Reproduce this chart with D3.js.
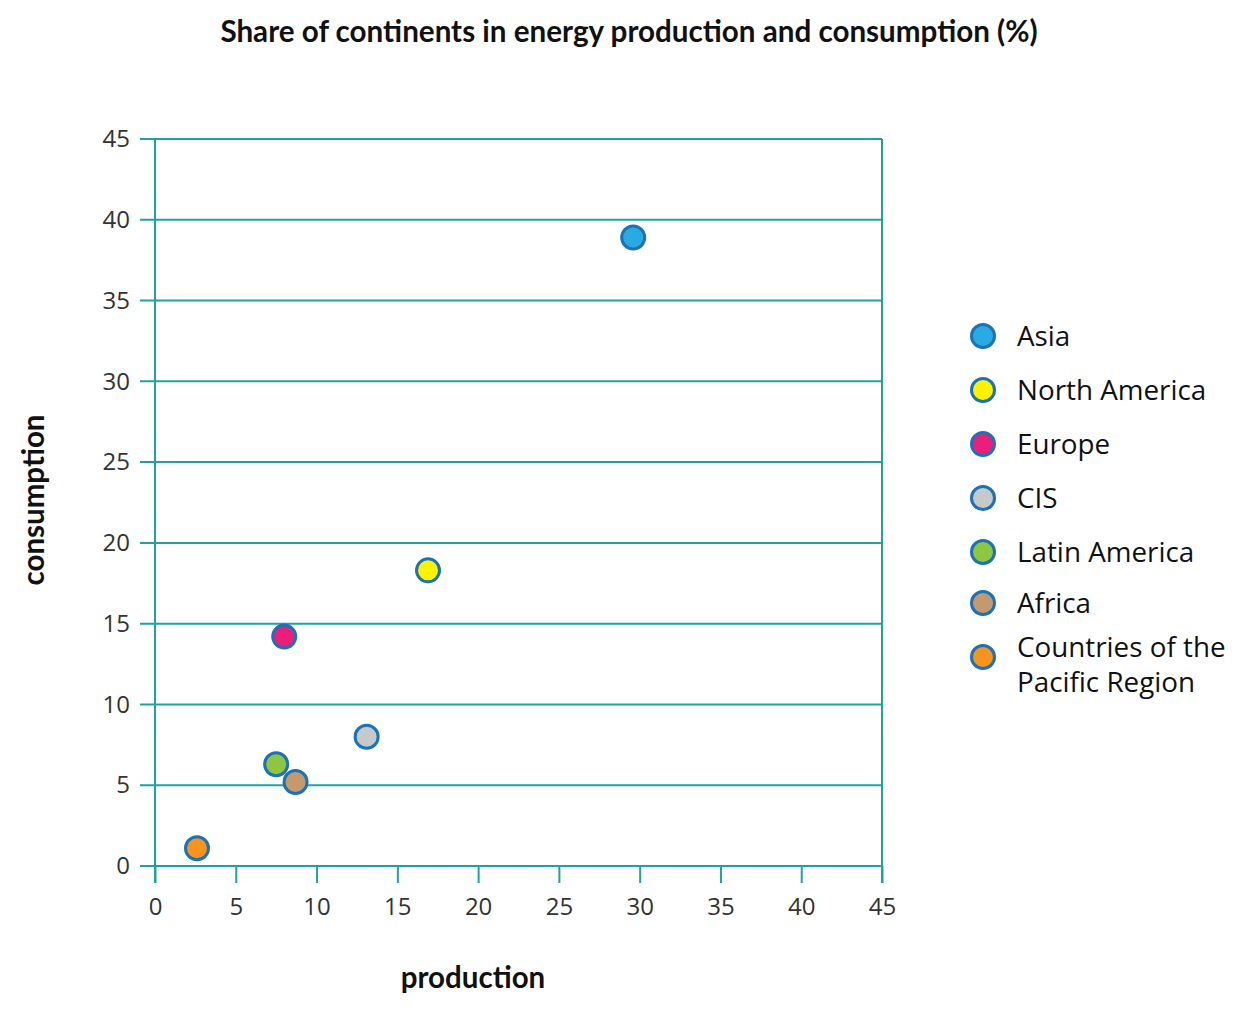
<!DOCTYPE html>
<html>
<head>
<meta charset="utf-8">
<script src="https://cdn.jsdelivr.net/npm/d3@7"></script>
<style>
  body { margin: 0; background: #fff; }
  text { font-family: "Open Sans", sans-serif; }
  .title, .axis-label { font-family: Lato, "Open Sans", sans-serif; font-weight: bold; fill: #111; }
  .tick text { fill: #333; font-size: 24px; }
</style>
</head>
<body>
<div id="chart"></div>
<script>
// Data
const regions = ["Asia", "North America", "Europe", "CIS", "Latin America", "Africa", "Countries of the Pacific Region"]
const production = [29.6, 16.9, 8.0, 13.1, 7.5, 8.7, 2.6]
const consumption = [38.9, 18.3, 14.2, 8.0, 6.3, 5.2, 1.1]
const fills = ["#29abe2", "#fff200", "#ed1e79", "#c7c8ca", "#8dc63f", "#c49a6c", "#f7941d"]
const ticks = [0, 5, 10, 15, 20, 25, 30, 35, 40, 45]

const axisColor = "#1fa39c"
const ringColor = "#1b72b8"

let margin = {top: 139, right: 368, bottom: 151, left: 155}
let width = 1250 - margin.left - margin.right
let height = 1017 - margin.top - margin.bottom

let svg = d3.select("#chart").append("svg")
  .attr("width", 1250)
  .attr("height", 1017)

svg.append("text")
  .attr("class", "title")
  .attr("x", 629).attr("y", 42)
  .attr("text-anchor", "middle")
  .style("font-size", "29.6px")
  .text("Share of continents in energy production and consumption (%)")

let g = svg.append("g")
  .attr("transform", "translate(" + margin.left + "," + margin.top + ")")

let xScale = d3.scaleLinear().domain([0, 45]).range([0, width])
let yScale = d3.scaleLinear().domain([0, 45]).range([height, 0])

// horizontal grid lines
g.append("g")
  .selectAll("line")
  .data(ticks)
  .enter().append("line")
  .attr("x1", -15).attr("x2", width)
  .attr("y1", d => yScale(d)).attr("y2", d => yScale(d))
  .attr("stroke", axisColor).attr("stroke-width", 2)

// right border
g.append("line")
  .attr("x1", width).attr("x2", width)
  .attr("y1", 0).attr("y2", height + 17)
  .attr("stroke", axisColor).attr("stroke-width", 2)

let xAxis = d3.axisBottom(xScale).tickValues(ticks).tickSize(17).tickPadding(15)
let yAxis = d3.axisLeft(yScale).tickValues(ticks).tickSize(0).tickPadding(25)

let xg = g.append("g")
  .attr("transform", "translate(0," + height + ")")
  .call(xAxis)
xg.select(".domain").remove()
xg.selectAll(".tick line").attr("stroke", axisColor).attr("stroke-width", 2)

let yg = g.append("g").call(yAxis)
yg.select(".domain").remove()
yg.selectAll(".tick text").attr("dy", "0.32em")

// left axis line, running down past the x axis
g.append("line")
  .attr("x1", 0).attr("x2", 0)
  .attr("y1", 0).attr("y2", height + 17)
  .attr("stroke", axisColor).attr("stroke-width", 2)

g.append("text")
  .attr("class", "axis-label")
  .attr("transform", "translate(" + (473 - margin.left) + "," + (988 - margin.top) + ")")
  .attr("text-anchor", "middle")
  .style("font-size", "29.5px")
  .text("production")

g.append("text")
  .attr("class", "axis-label")
  .attr("transform", "translate(" + (44 - margin.left) + "," + (500 - margin.top) + "),rotate(-90)")
  .attr("text-anchor", "middle")
  .style("font-size", "29.5px")
  .text("consumption")

let points = regions.map((r, i) => ({name: r, x: production[i], y: consumption[i], fill: fills[i]}))

g.selectAll(".dot")
  .data(points)
  .enter().append("circle")
  .attr("class", "dot")
  .attr("cx", d => xScale(d.x))
  .attr("cy", d => yScale(d.y))
  .attr("r", 11.5)
  .attr("fill", d => d.fill)
  .attr("stroke", ringColor)
  .attr("stroke-width", 3)

// LEGEND
let legendY = [336, 390, 444, 498, 552, 603, 657]
let legend = svg.append("g")
let items = legend.selectAll(".item")
  .data(points)
  .enter().append("g")
  .attr("transform", (d, i) => "translate(983," + legendY[i] + ")")

items.append("circle")
  .attr("r", 11.5)
  .attr("fill", d => d.fill)
  .attr("stroke", ringColor)
  .attr("stroke-width", 3)

items.append("text")
  .attr("x", 34)
  .style("font-size", "27.8px")
  .style("fill", "#111")
  .each(function(d) {
    let t = d3.select(this)
    if (d.name === "Countries of the Pacific Region") {
      t.append("tspan").attr("x", 34).attr("y", 0).text("Countries of the")
      t.append("tspan").attr("x", 34).attr("y", 35).text("Pacific Region")
    } else {
      t.attr("y", 10).text(d.name)
    }
  })
</script>
</body>
</html>
